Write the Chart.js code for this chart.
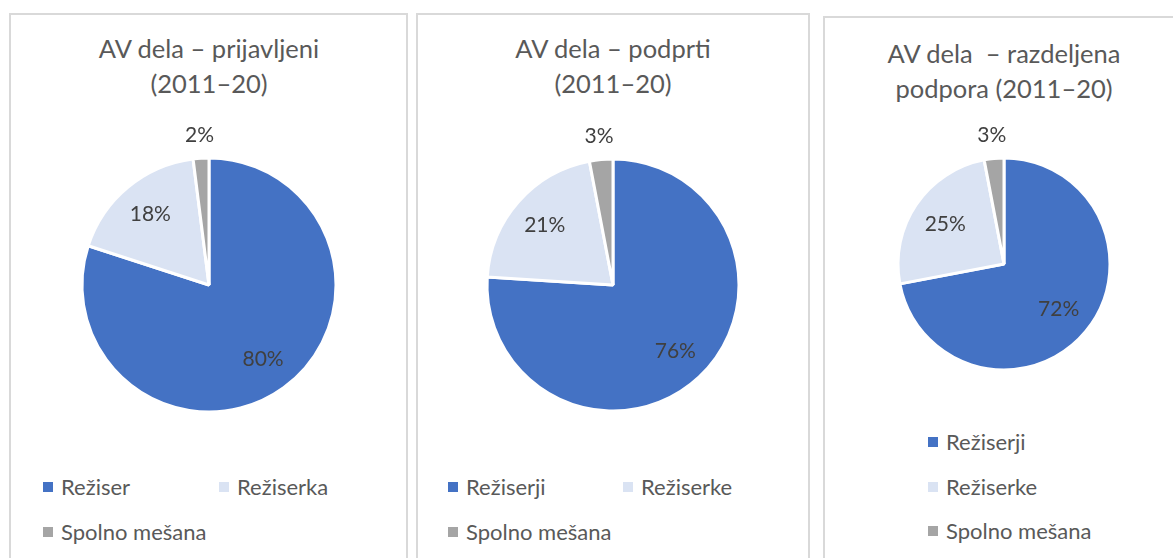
<!DOCTYPE html>
<html>
<head>
<meta charset="utf-8">
<script src="https://cdn.jsdelivr.net/npm/chart.js@4/dist/chart.umd.min.js"></script>
<style>
  body { margin: 0; width: 1173px; height: 558px; overflow: hidden; background: #fff; font-family: Lato, "Open Sans", sans-serif; }
  .panel { position: absolute; border: 2px solid #d9d9d9; background: #fff; box-sizing: border-box; }
  .title { position: absolute; text-align: center; color: #595959; font-size: 25.5px; line-height: 35px; white-space: pre; transform: translateX(-50%); }
  .pie { position: absolute; }
  .legend { position: absolute; color: #595959; font-size: 22px; }
  .legend span.item { position: absolute; white-space: nowrap; line-height: 24px; transform: translateY(-50%); }
  .legend i { display: inline-block; width: 10px; height: 10px; margin-right: 8px; vertical-align: 3px; }
</style>
</head>
<body>
<script>
const colors = ["#4472C4", "#DAE3F3", "#A5A5A5"];

const titles = [
  "AV dela – prijavljeni\n(2011–20)",
  "AV dela – podprti\n(2011–20)",
  "AV dela  – razdeljena\npodpora (2011–20)",
];
const labelsA = ["Režiser", "Režiserka", "Spolno mešana"];
const labelsB = ["Režiserji", "Režiserke", "Spolno mešana"];

const prijavljeni = [80, 18, 2];
const podprti = [76, 21, 3];
const razdeljena = [72, 25, 3];

// panel boxes and pie placement
const panels = [
  { left: 9, top: 13, width: 399, cx: 209, cy: 285, r: 126, titleY: 31, labels: labelsA, data: prijavljeni,
    legend: [[43, 487], [219, 487], [43, 532]] },
  { left: 416, top: 13, width: 394, cx: 613, cy: 285, r: 125, titleY: 31, labels: labelsB, data: podprti,
    legend: [[448, 487], [623, 487], [448, 532]] },
  { left: 823, top: 16, width: 400, cx: 1004, cy: 264, r: 105, titleY: 36, labels: labelsB, data: razdeljena,
    legend: [[928, 442], [928, 487], [928, 531]] },
];

const pctLabels = {
  id: "pctLabels",
  afterDatasetsDraw(chart) {
    const { ctx } = chart;
    const meta = chart.getDatasetMeta(0);
    const values = chart.data.datasets[0].data;
    ctx.save();
    ctx.font = "21px Lato, 'Open Sans', sans-serif";
    ctx.fillStyle = "#404040";
    ctx.textAlign = "center";
    ctx.textBaseline = "middle";
    meta.data.forEach((arc, i) => {
      const mid = (arc.startAngle + arc.endAngle) / 2;
      const d = values[i] < 5 ? arc.outerRadius + 23 : arc.outerRadius - 35;
      ctx.fillText(values[i] + "%", arc.x + Math.cos(mid) * d, arc.y + Math.sin(mid) * d);
    });
    ctx.restore();
  },
};

panels.forEach((p, idx) => {
  const box = document.createElement("div");
  box.className = "panel";
  Object.assign(box.style, { left: p.left + "px", top: p.top + "px", width: p.width + "px", height: "600px" });
  document.body.appendChild(box);

  const t = document.createElement("div");
  t.className = "title";
  t.textContent = titles[idx];
  Object.assign(t.style, { left: p.cx + "px", top: p.titleY + "px" });
  document.body.appendChild(t);

  const size = 2 * (p.r + 50);
  const wrap = document.createElement("div");
  wrap.className = "pie";
  Object.assign(wrap.style, { left: p.cx - size / 2 + "px", top: p.cy - size / 2 + "px", width: size + "px", height: size + "px" });
  const canvas = document.createElement("canvas");
  wrap.appendChild(canvas);
  document.body.appendChild(wrap);

  new Chart(canvas, {
    type: "pie",
    data: {
      labels: p.labels,
      datasets: [{ data: p.data, backgroundColor: colors, borderColor: "#fff", borderWidth: 3 }],
    },
    options: {
      responsive: true,
      maintainAspectRatio: false,
      animation: false,
      radius: p.r + 1,
      layout: { padding: 0 },
      plugins: { legend: { display: false }, tooltip: { enabled: false } },
    },
    plugins: [pctLabels],
  });

  const lg = document.createElement("div");
  lg.className = "legend";
  p.labels.forEach((name, i) => {
    const item = document.createElement("span");
    item.className = "item";
    item.innerHTML = `<i style="background:${colors[i]}"></i>${name}`;
    Object.assign(item.style, { left: p.legend[i][0] + "px", top: p.legend[i][1] + "px" });
    lg.appendChild(item);
  });
  document.body.appendChild(lg);
});
</script>
</body>
</html>
